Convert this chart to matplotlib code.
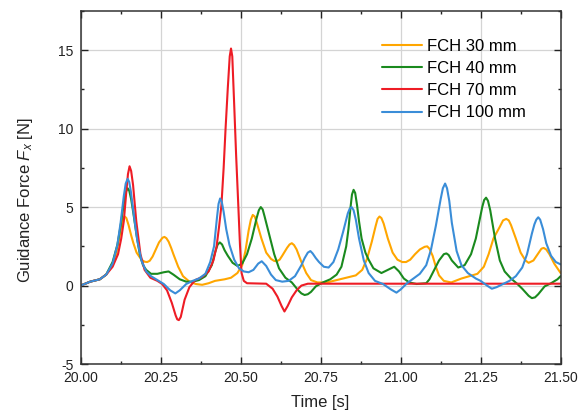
import matplotlib

matplotlib.use("Agg")
import matplotlib.pyplot as plt
from matplotlib.ticker import MultipleLocator

plt.rcParams["font.family"] = ["Liberation Sans", "DejaVu Sans"]
plt.rcParams["mathtext.fontset"] = "custom"
plt.rcParams["mathtext.rm"] = "Liberation Sans"
plt.rcParams["mathtext.it"] = "Liberation Sans:italic"
plt.rcParams["axes.unicode_minus"] = False

labels = ["FCH 30 mm", "FCH 40 mm", "FCH 70 mm", "FCH 100 mm"]
colors = ["#ffa600", "#1a8a1e", "#ee1c25", "#3a8dd8"]

# values: time [s], force [N]
t_30 = [20.00, 20.03, 20.06, 20.08, 20.10, 20.111, 20.12, 20.128, 20.133, 20.138,
        20.143, 20.15, 20.158, 20.165, 20.175, 20.19, 20.2, 20.208, 20.216, 20.225,
        20.235, 20.245, 20.256, 20.262, 20.268, 20.275, 20.283, 20.29, 20.305, 20.32,
        20.34, 20.36, 20.38, 20.40, 20.42, 20.45, 20.47, 20.49, 20.505, 20.515,
        20.525, 20.532, 20.538, 20.544, 20.55, 20.565, 20.58, 20.595, 20.605, 20.613,
        20.622, 20.63, 20.645, 20.653, 20.66, 20.667, 20.675, 20.69, 20.705, 20.72,
        20.74, 20.77, 20.80, 20.83, 20.86, 20.88, 20.895, 20.91, 20.922, 20.928,
        20.934, 20.94, 20.947, 20.96, 20.975, 20.99, 21.005, 21.017, 21.03, 21.045,
        21.06, 21.075, 21.083, 21.09, 21.1, 21.11, 21.12, 21.135, 21.158, 21.19,
        21.215, 21.24, 21.26, 21.275, 21.29, 21.31, 21.32, 21.33, 21.338, 21.345,
        21.36, 21.375, 21.39, 21.40, 21.415, 21.43, 21.44, 21.447, 21.455, 21.465,
        21.48, 21.50]
f_30 = [0.0, 0.25, 0.4, 0.7, 1.3, 2.0, 2.9, 3.8, 4.25, 4.4,
        4.3, 3.85, 3.2, 2.7, 2.1, 1.65, 1.52, 1.5, 1.58, 1.85,
        2.3, 2.75, 3.05, 3.1, 3.02, 2.8, 2.4, 2.0, 1.2, 0.6,
        0.25, 0.1, 0.05, 0.15, 0.3, 0.4, 0.5, 0.8, 1.3, 2.2,
        3.5, 4.2, 4.5, 4.4, 4.05, 3.0, 2.1, 1.7, 1.57, 1.55,
        1.65, 1.9, 2.4, 2.62, 2.7, 2.58, 2.3, 1.5, 0.8, 0.35,
        0.2, 0.2, 0.35, 0.5, 0.65, 1.0, 1.7, 2.8, 3.8, 4.25,
        4.4, 4.3, 3.95, 3.0, 2.1, 1.65, 1.5, 1.5, 1.65, 2.0,
        2.3, 2.47, 2.5, 2.35, 1.9, 1.2, 0.65, 0.3, 0.2, 0.45,
        0.6, 0.75, 1.2, 2.0, 3.0, 3.75, 4.15, 4.25, 4.15, 3.85,
        3.0, 2.1, 1.6, 1.45, 1.6, 2.05, 2.35, 2.4, 2.3, 2.0,
        1.4, 0.8]

t_40 = [20.00, 20.03, 20.06, 20.08, 20.10, 20.115, 20.125, 20.135, 20.141, 20.147,
        20.152, 20.158, 20.165, 20.175, 20.185, 20.195, 20.205, 20.22, 20.24, 20.26,
        20.275, 20.29, 20.31, 20.33, 20.35, 20.37, 20.39, 20.41, 20.42, 20.428,
        20.435, 20.442, 20.45, 20.46, 20.475, 20.49, 20.505, 20.52, 20.535, 20.55,
        20.557, 20.563, 20.569, 20.575, 20.59, 20.605, 20.62, 20.64, 20.66, 20.68,
        20.69, 20.70, 20.71, 20.72, 20.735, 20.757, 20.78, 20.80, 20.815, 20.83,
        20.837, 20.843, 20.848, 20.853, 20.858, 20.864, 20.87, 20.878, 20.89, 20.90,
        20.915, 20.94, 20.96, 20.98, 20.995, 21.01, 21.027, 21.05, 21.08, 21.09,
        21.105, 21.12, 21.135, 21.143, 21.15, 21.16, 21.18, 21.20, 21.22, 21.235,
        21.245, 21.255, 21.261, 21.267, 21.273, 21.28, 21.295, 21.31, 21.325, 21.345,
        21.365, 21.38, 21.40, 21.41, 21.42, 21.43, 21.45, 21.47, 21.49, 21.50]
f_40 = [0.0, 0.25, 0.4, 0.7, 1.5, 2.6, 3.8, 5.2, 5.95, 6.2,
        6.05, 5.5, 4.6, 3.2, 2.0, 1.3, 1.0, 0.75, 0.75, 0.85,
        0.9, 0.7, 0.4, 0.25, 0.25, 0.35, 0.6, 1.3, 2.1, 2.6,
        2.75, 2.62, 2.25, 1.9, 1.45, 1.25, 1.4, 2.0, 3.0, 4.3,
        4.8, 5.0, 4.85, 4.4, 3.2, 2.0, 1.1, 0.5, 0.2, -0.3,
        -0.5, -0.6, -0.55, -0.4, -0.05, 0.2, 0.4, 0.7, 1.2, 2.5,
        3.6, 4.9, 5.8, 6.1, 5.9, 5.1, 4.1, 3.0, 2.1, 1.65,
        1.1, 0.8, 1.0, 1.2, 0.9, 0.45, 0.2, 0.1, 0.15, 0.4,
        1.0, 1.6, 2.0, 2.05, 1.95, 1.6, 1.15, 1.3, 2.0, 3.0,
        4.0, 5.0, 5.45, 5.6, 5.4, 4.8, 3.0, 1.6, 0.9, 0.45,
        0.1, -0.2, -0.65, -0.8, -0.75, -0.55, -0.05, 0.15, 0.4, 0.6]

t_70 = [20.00, 20.03, 20.06, 20.08, 20.10, 20.117, 20.127, 20.135, 20.143, 20.148,
        20.153, 20.158, 20.164, 20.174, 20.187, 20.20, 20.218, 20.24, 20.255, 20.27,
        20.285, 20.297, 20.302, 20.307, 20.313, 20.325, 20.34, 20.358, 20.38, 20.40,
        20.415, 20.425, 20.433, 20.44, 20.447, 20.453, 20.46, 20.466, 20.47, 20.474,
        20.48, 20.486, 20.493, 20.498, 20.503, 20.51, 20.52, 20.58, 20.60, 20.615,
        20.628, 20.637, 20.647, 20.66, 20.675, 20.69, 20.71, 21.50]
f_70 = [0.0, 0.25, 0.4, 0.7, 1.2, 2.0, 3.0, 4.1, 6.0, 7.1,
        7.6, 7.3, 6.4, 4.1, 2.0, 1.0, 0.5, 0.3, 0.1, -0.3,
        -1.1, -1.9, -2.15, -2.2, -2.0, -0.9, -0.1, 0.35, 0.55, 0.9,
        1.6, 2.5, 3.8, 5.1, 7.5, 10.0, 12.6, 14.6, 15.1, 14.6,
        11.5, 8.3, 5.0, 2.6, 0.8, 0.3, 0.15, 0.12, -0.2, -0.7,
        -1.3, -1.65, -1.3, -0.75, -0.3, 0.0, 0.12, 0.12]

t_100 = [20.00, 20.03, 20.06, 20.08, 20.10, 20.115, 20.125, 20.135, 20.141, 20.147,
         20.152, 20.157, 20.167, 20.177, 20.19, 20.205, 20.22, 20.24, 20.26, 20.28,
         20.296, 20.31, 20.33, 20.35, 20.37, 20.39, 20.405, 20.417, 20.426, 20.431,
         20.436, 20.441, 20.447, 20.455, 20.465, 20.48, 20.495, 20.51, 20.525, 20.54,
         20.555, 20.566, 20.58, 20.595, 20.61, 20.63, 20.65, 20.67, 20.69, 20.70,
         20.71, 20.718, 20.725, 20.735, 20.745, 20.76, 20.775, 20.79, 20.805, 20.82,
         20.835, 20.841, 20.847, 20.853, 20.86, 20.87, 20.885, 20.90, 20.92, 20.945,
         20.97, 20.987, 21.00, 21.02, 21.04, 21.06, 21.08, 21.095, 21.11, 21.125,
         21.132, 21.139, 21.145, 21.152, 21.16, 21.175, 21.19, 21.21, 21.235, 21.25,
         21.27, 21.285, 21.30, 21.32, 21.34, 21.36, 21.38, 21.395, 21.41, 21.418,
         21.424, 21.43, 21.436, 21.445, 21.455, 21.47, 21.485, 21.50]
f_100 = [0.0, 0.25, 0.4, 0.7, 1.4, 2.6, 4.0, 5.7, 6.5, 6.8,
         6.6, 6.0, 4.4, 2.9, 1.6, 0.9, 0.6, 0.35, 0.1, -0.3,
         -0.5, -0.3, 0.1, 0.3, 0.45, 0.75, 1.5, 2.5, 4.3, 5.2,
         5.55, 5.35, 4.7, 3.6, 2.6, 1.65, 1.1, 0.9, 0.85, 1.0,
         1.4, 1.55, 1.25, 0.7, 0.35, 0.25, 0.3, 0.6, 1.3, 1.75,
         2.1, 2.2, 2.05, 1.75, 1.5, 1.2, 1.15, 1.5, 2.3, 3.4,
         4.6, 4.9, 5.0, 4.8, 4.2, 3.0, 1.6, 0.8, 0.3, 0.1,
         -0.25, -0.45, -0.25, 0.15, 0.45, 0.75, 1.3, 2.3, 3.8, 5.5,
         6.2, 6.5, 6.2, 5.4, 4.0, 2.2, 1.3, 0.8, 0.45, 0.3,
         0.0, -0.2, -0.1, 0.1, 0.3, 0.6, 1.15, 2.0, 3.3, 3.9,
         4.2, 4.35, 4.2, 3.6, 2.7, 1.9, 1.5, 1.35]

series = [(t_30, f_30), (t_40, f_40), (t_70, f_70), (t_100, f_100)]

fig = plt.figure(figsize=(5.84, 4.18), dpi=100)
ax = fig.add_axes([0.138, 0.129, 0.822, 0.845])

for (t, f), label, color in zip(series, labels, colors):
    ax.plot(t, f, color=color, lw=1.5, label=label,
            solid_joinstyle="round", solid_capstyle="round")

ax.set_xlim(20.0, 21.5)
ax.set_ylim(-5, 17.5)
ax.xaxis.set_major_locator(MultipleLocator(0.25))
ax.xaxis.set_minor_locator(MultipleLocator(0.125))
ax.yaxis.set_major_locator(MultipleLocator(5))
ax.yaxis.set_minor_locator(MultipleLocator(2.5))
ax.xaxis.set_major_formatter(plt.FormatStrFormatter("%.2f"))
ax.tick_params(which="both", direction="in", top=True, right=True,
               colors="#222222", labelsize=10)
ax.tick_params(which="major", length=5, width=1.0, pad=5)
ax.tick_params(which="minor", length=2.5, width=1.0)
ax.grid(which="major", color="#d4d4d4", lw=0.9)
ax.set_axisbelow(True)
for spine in ax.spines.values():
    spine.set_color("#333333")
    spine.set_linewidth(1.1)

ax.set_xlabel("Time [s]", fontsize=12, color="#222222")
ax.set_ylabel("Guidance Force $F_x$ [N]", fontsize=12, color="#222222")
ax.xaxis.set_label_coords(0.5, -0.088)
ax.yaxis.set_label_coords(-0.095, 0.465)

ax.legend(loc="upper left", bbox_to_anchor=(0.654, 0.907),
          bbox_transform=fig.transFigure, frameon=False, fontsize=12,
          handlelength=2.4, handletextpad=0.3, labelspacing=0.43,
          borderpad=0, borderaxespad=0)

fig.savefig("out.png", dpi=100)
